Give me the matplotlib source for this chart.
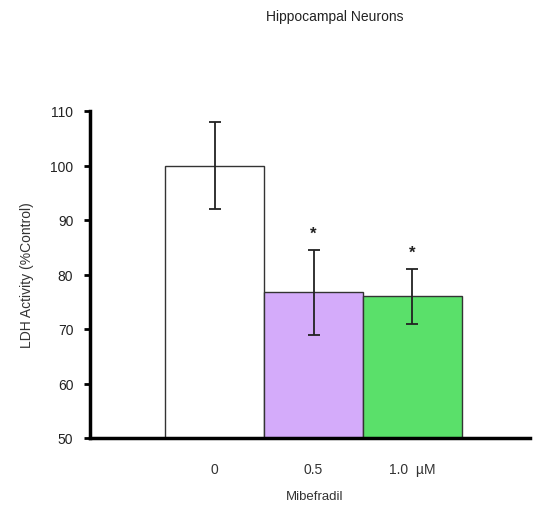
import numpy as np
import matplotlib.pyplot as plt

plt.rcParams['font.family'] = ['Liberation Sans', 'DejaVu Sans']

# dados
doses = ['0', '0.5', '1.0  \u00b5M']
valores = [100.0, 76.7, 76.0]
erros = [8.0, 7.8, 5.0]
cores = ['#ffffff', '#d4abfa', '#5ae06a']
signif = [False, True, True]

fig = plt.figure(figsize=(5.34, 5.06), dpi=100)
ax = fig.add_axes([90/534, 1-439/506, 440/534, (439-112)/506])

ind = np.arange(len(doses))
ax.bar(ind, valores, 1.0, color=cores, edgecolor='#333333', linewidth=1.0, zorder=2)
ax.errorbar(ind, valores, yerr=erros, fmt='none', ecolor='#222222', elinewidth=1.3,
            capsize=4.5, capthick=1.3, zorder=3)
for i in ind:
    if signif[i]:
        ax.text(i, valores[i] + erros[i] + 3.0, '*', ha='center', va='center', fontsize=12,
                fontweight='bold', color='#222222')

ax.set_ylim(50, 110)
ax.set_xlim(-1.263, 3.19)
ax.set_yticks(np.arange(50, 111, 10))
ax.set_xticks(ind)
ax.set_xticklabels(doses)
ax.tick_params(axis='x', length=0, pad=17, labelsize=10, labelcolor='#333333')
ax.tick_params(axis='y', length=4, width=2, direction='out', labelsize=10, pad=8, labelcolor='#222222')

ax.spines['top'].set_visible(False)
ax.spines['right'].set_visible(False)
ax.spines['left'].set_linewidth(2.5)
ax.spines['bottom'].set_linewidth(2.5)

ax.set_ylabel('LDH Activity (%Control)', fontsize=10, labelpad=12, color='#333333')
fig.text(315/534, 1-497/506, 'Mibefradil', ha='center', va='center', fontsize=9.5, color='#333333')
fig.text(335/534, 1-17/506, 'Hippocampal Neurons', ha='center', va='center', fontsize=10, color='#222222')

plt.savefig('out.png', dpi=100)
